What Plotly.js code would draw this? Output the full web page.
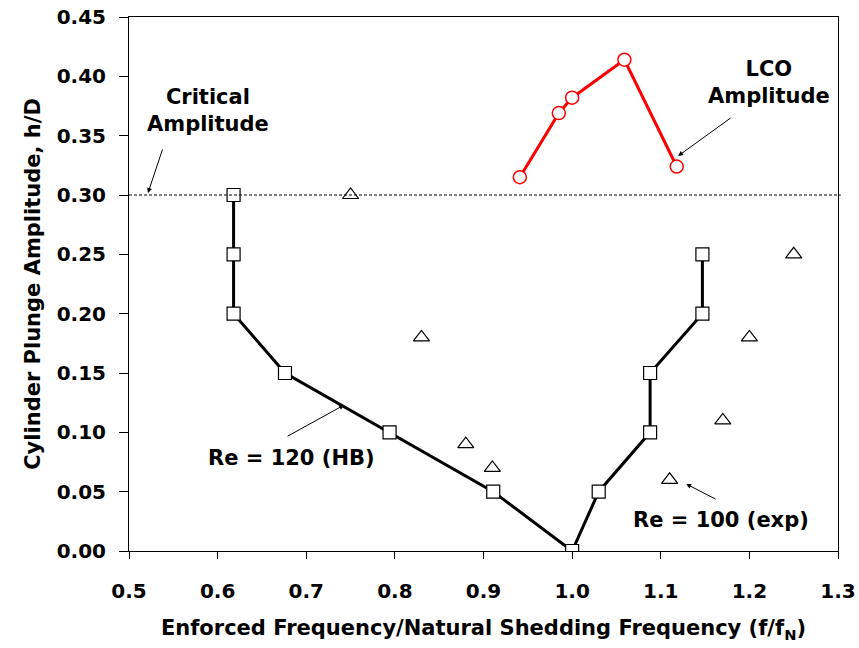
<!DOCTYPE html>
<html><head><meta charset="utf-8">
<script src="https://cdn.plot.ly/plotly-3.0.1.min.js"></script>
<style>html,body{margin:0;padding:0;background:#fff}#chart{width:859px;height:648px}</style>
</head><body><div id="chart"></div>
<script>
// Re = 120 (HB) boundary
const hbFreq = [0.618, 0.618, 0.618, 0.676, 0.794, 0.911, 1.0, 1.030, 1.088, 1.088, 1.147, 1.147];
const hbAmp  = [0.30, 0.25, 0.20, 0.15, 0.10, 0.05, 0.00, 0.05, 0.10, 0.15, 0.20, 0.25];
// Re = 100 (exp)
const expFreq = [0.75, 0.83, 0.88, 0.91, 1.11, 1.17, 1.20, 1.25];
const expAmp  = [0.30, 0.18, 0.09, 0.07, 0.06, 0.11, 0.18, 0.25];
// LCO amplitude
const lcoFreq = [0.941, 0.985, 1.000, 1.059, 1.118];
const lcoAmp  = [0.315, 0.369, 0.382, 0.414, 0.324];
// Critical amplitude
const criticalAmp = 0.30;
const xTicks = [0.5, 0.6, 0.7, 0.8, 0.9, 1.0, 1.1, 1.2, 1.3];
const yTicks = [0, 0.05, 0.10, 0.15, 0.20, 0.25, 0.30, 0.35, 0.40, 0.45];

const F = '"DejaVu Sans", Arial, sans-serif';

const traces = [
  {x: hbFreq, y: hbAmp, mode: 'lines+markers', type: 'scatter',
   line: {color: '#000', width: 3},
   marker: {symbol: 'square', size: 13, color: '#fff', line: {color: '#000', width: 1.2}}},
  {x: expFreq, y: expAmp, mode: 'markers', type: 'scatter',
   marker: {symbol: 'triangle-up', size: 14, color: '#fff', line: {color: '#000', width: 1.2}}},
  {x: lcoFreq, y: lcoAmp, mode: 'lines+markers', type: 'scatter',
   line: {color: '#ff0000', width: 3},
   marker: {symbol: 'circle', size: 13, color: '#fff', line: {color: '#ff0000', width: 1.5}}}
];

const annFont = {family: F, size: 21, color: '#000', weight: 'bold'};
function arrow(x, y, ax, ay) {
  return {x: x, y: y, xref: 'x', yref: 'y', ax: ax, ay: ay, text: '', showarrow: true,
          arrowhead: 2, arrowsize: 1, arrowwidth: 1, arrowcolor: '#000'};
}
function label(x, y, text) {
  return {x: x, y: y, xref: 'x', yref: 'y', showarrow: false, text: text, font: annFont,
          xanchor: 'center', yanchor: 'middle', align: 'center'};
}

const layout = {
  width: 859, height: 648,
  margin: {l: 129, r: 21, t: 17, b: 97},
  paper_bgcolor: '#fff', plot_bgcolor: '#fff',
  showlegend: false,
  font: {family: F, color: '#000'},
  xaxis: {
    range: [0.5, 1.3], tickvals: xTicks, ticktext: xTicks.map(v => v.toFixed(1)),
    showgrid: false, zeroline: false, showline: true, linecolor: '#000', linewidth: 1, mirror: true,
    ticks: 'outside', ticklen: 7, tickcolor: '#000', tickwidth: 1, ticklabelstandoff: 15,
    tickfont: {family: F, size: 20, weight: 'bold'},
    title: {text: 'Enforced Frequency/Natural Shedding Frequency (f/f<sub>N</sub>)', font: {family: F, size: 21, weight: 'bold'}, standoff: 18}
  },
  yaxis: {
    range: [0, 0.45], tickvals: yTicks, ticktext: yTicks.map(v => v.toFixed(2)),
    showgrid: false, zeroline: false, showline: true, linecolor: '#000', linewidth: 1, mirror: true,
    ticks: 'outside', ticklen: 9, tickcolor: '#000', tickwidth: 1, ticklabelstandoff: 9,
    tickfont: {family: F, size: 20, weight: 'bold'},
    title: {text: 'Cylinder Plunge Amplitude, h/D', font: {family: F, size: 21, weight: 'bold'}, standoff: 10}
  },
  shapes: [
    {type: 'line', xref: 'paper', yref: 'y', x0: 0, x1: 1.004, y0: criticalAmp, y1: criticalAmp,
     line: {color: '#000', width: 1, dash: '3px,2px'}}
  ],
  annotations: [
    arrow(0.5214, 0.3017, 15, -45),
    label(0.589, 0.3716, 'Critical<br>Amplitude'),
    arrow(1.1196, 0.3329, 54, -39),
    label(1.2223, 0.3944, 'LCO<br>Amplitude'),
    arrow(0.7427, 0.123, -58, 32),
    label(0.6828, 0.0784, 'Re = 120 (HB)'),
    arrow(1.1287, 0.0565, 31, 16),
    label(1.1682, 0.0261, 'Re = 100 (exp)')
  ]
};

Plotly.newPlot('chart', traces, layout, {displayModeBar: false, staticPlot: true});
</script>
</body></html>
